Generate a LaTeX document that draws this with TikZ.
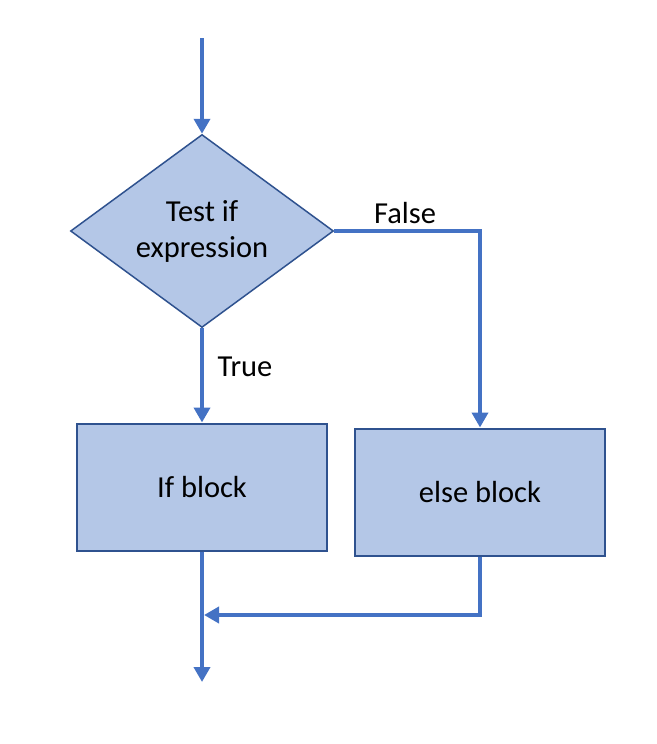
\documentclass[tikz,border=0pt]{standalone}
\usepackage{fontspec}
\setmainfont{Carlito}
\usepackage{tikz}
\usetikzlibrary{shapes.geometric,arrows.meta}
\definecolor{flowblue}{HTML}{4472C4}
\definecolor{boxfill}{HTML}{B4C7E7}
\definecolor{boxline}{HTML}{2F528F}

\begin{document}
\begin{tikzpicture}[x=1pt,y=-1pt,
  flow/.style={draw=flowblue, line width=4pt, -{Triangle[width=16pt,length=15pt]}},
  block/.style={draw=boxline, line width=2pt, fill=boxfill, minimum width=250pt, minimum height=127pt, font=\fs},
  test/.style={diamond, aspect=1.36, inner sep=0pt, draw=boxline, line width=1.5pt, fill=boxfill, minimum width=263pt, minimum height=193pt, align=center, font=\fs},
  lbl/.style={font=\fs}]
\def\fs{\fontsize{30.5}{36}\selectfont}
\useasboundingbox (0,0) rectangle (656,744);
\coordinate (start) at (202,38);
\node[test] (cond) at (202,231) {Test if\\expression};
\node[block] (ifb) at (202,487) {If block};
\node[block] (elseb) at (480,492) {else block};
\coordinate (join) at (204,615);
\coordinate (stop) at (202,682);
\draw[flow] (start) -- (cond.north);
\draw[flow] (cond.south) -- (ifb.north);
\draw[flow] (cond.east) -| (elseb.north);
\draw[flow] (elseb.south) |- (join);
\draw[flow] (ifb.south) -- (stop);
\path (405,213) node[lbl] (f) {False};
\path (245,367) node[lbl] (t) {True};
\end{tikzpicture}
\end{document}
